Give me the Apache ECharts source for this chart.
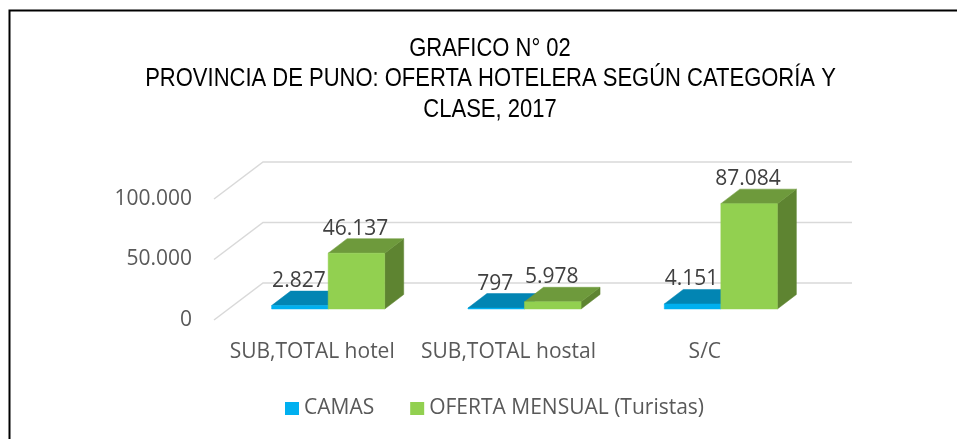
<!DOCTYPE html>
<html>
<head>
<meta charset="utf-8">
<style>html,body{margin:0;padding:0;background:#fff}#c{width:957px;height:439px}</style>
<script src="https://cdn.jsdelivr.net/npm/echarts@6/dist/echarts.min.js"></script>
</head>
<body>
<div id="c"></div>
<script>
const titleLines = ['GRAFICO N° 02', 'PROVINCIA DE PUNO: OFERTA HOTELERA SEGÚN CATEGORÍA Y', 'CLASE, 2017'];
const categories = ['SUB,TOTAL hotel', 'SUB,TOTAL hostal', 'S/C'];
const camas = [2827, 797, 4151];
const oferta = [46137, 5978, 87084];
const ticks = [0, 50000, 100000];
const names = ['CAMAS', 'OFERTA MENSUAL (Turistas)'];

const fmt = v => String(v).replace(/\B(?=(\d{3})+$)/g, '.');
const FONT = '"Open Sans", sans-serif';
const WALL = [49, -37], GAP = [16, -11], DEPTH = [19, -14.5], BAR = 0.288;
const palette = [
  {front: '#00B0F0', top: '#0285B3', side: '#01759E'},
  {front: '#92D050', top: '#6E9A3C', side: '#5E8431'}
];

function barItem(s) {
  return function (params, api) {
    const cat = api.value(0), val = api.value(1);
    const base = api.coord([cat, 0]), top = api.coord([cat, val]);
    const w = api.size([1, 0])[0] * BAR;
    const x0 = base[0] + GAP[0] + (s === 0 ? -w : 0), x1 = x0 + w;
    const y0 = base[1] + GAP[1], y1 = top[1] + GAP[1];
    const [dx, dy] = DEPTH, c = palette[s];
    const poly = (points, fill) => ({type: 'polygon', shape: {points}, style: {fill, stroke: fill, lineWidth: 0.5}});
    return {type: 'group', children: [
      poly([[x1, y0], [x1 + dx, y0 + dy], [x1 + dx, y1 + dy], [x1, y1]], c.side),
      poly([[x0, y1], [x1, y1], [x1 + dx, y1 + dy], [x0 + dx, y1 + dy]], c.top),
      poly([[x0, y0], [x1, y0], [x1, y1], [x0, y1]], c.front),
      {type: 'text', z2: 50, style: {
        text: fmt(val), x: (x0 + x1) / 2 - 1, y: y1 + dy - 10,
        align: 'center', verticalAlign: 'middle',
        font: '21px ' + FONT, fill: '#404040'
      }}
    ]};
  };
}

function gridItem(params, api) {
  const v = api.value(1);
  const p = api.coord([0, v]), band = api.size([1, 0])[0];
  const xl = p[0] - band / 2, xr = xl + band * categories.length;
  const ym = p[1] + WALL[1];
  return {type: 'polyline', silent: true, shape: {points: [[xl, p[1]], [xl + WALL[0], ym], [xr + WALL[0], ym]]},
    style: {fill: null, stroke: '#D9D9D9', lineWidth: 1.5}};
}

const titleY = [49, 79, 110], titleX = [490, 490.5, 490];
const chart = echarts.init(document.getElementById('c'), null, {renderer: 'canvas'});
chart.setOption({
  animation: false,
  backgroundColor: '#fff',
  legend: {
    data: names, left: 280, top: 393, icon: 'rect', itemWidth: 14, itemHeight: 13, itemGap: 36,
    textStyle: {fontFamily: FONT, fontSize: 21, color: '#595959'}
  },
  grid: {left: 214, right: 154, top: 199, bottom: 119},
  xAxis: {
    type: 'category', data: categories,
    axisLine: {show: false}, axisTick: {show: false}, splitLine: {show: false},
    axisLabel: {interval: 0, margin: 22, fontFamily: FONT, fontSize: 21, color: '#595959'}
  },
  yAxis: {
    type: 'value', min: 0, max: 100000, interval: 50000,
    axisLine: {show: false}, axisTick: {show: false}, splitLine: {show: false},
    axisLabel: {margin: 22, fontFamily: FONT, fontSize: 21, color: '#595959', formatter: fmt, padding: [0, 0, 4, 0]}
  },
  graphic: [
    {type: 'polyline', silent: true, z: -1, shape: {points: [[9.5, 445], [9.5, 10.5], [960, 10.5]]}, style: {fill: null, stroke: '#000', lineWidth: 2}}
  ].concat(titleLines.map((t, i) => ({
    type: 'text', silent: true, x: titleX[i], y: titleY[i], scaleX: 0.88,
    style: {text: t, align: 'center', verticalAlign: 'middle', font: '25px "Liberation Sans", Arial, sans-serif', fill: '#000'}
  }))),
  series: [
    {type: 'custom', name: 'grid', z: 1, renderItem: gridItem, encode: {x: 0, y: 1}, data: ticks.map(t => [0, t]), clip: false},
    {type: 'custom', name: names[0], z: 2, itemStyle: {color: palette[0].front}, renderItem: barItem(0), encode: {x: 0, y: 1}, data: camas.map((v, i) => [i, v]), clip: false},
    {type: 'custom', name: names[1], z: 3, itemStyle: {color: palette[1].front}, renderItem: barItem(1), encode: {x: 0, y: 1}, data: oferta.map((v, i) => [i, v]), clip: false}
  ]
});
</script>
</body>
</html>
